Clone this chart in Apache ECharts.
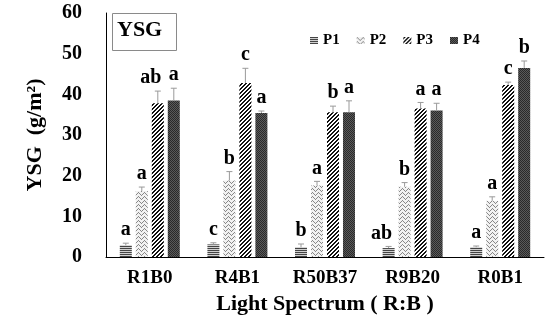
<!DOCTYPE html>
<html><head><meta charset="utf-8">
<script src="https://cdn.jsdelivr.net/npm/echarts@6/dist/echarts.min.js"></script>
<style>html,body{margin:0;padding:0;background:#fff}#c{width:550px;height:326px}</style>
</head><body><div id="c"></div>
<script>
var categories = ['R1B0', 'R4B1', 'R50B37', 'R9B20', 'R0B1'];
var seriesNames = ['P1', 'P2', 'P3', 'P4'];
var p1 = [2.9, 3.1, 2.4, 2.2, 2.4];
var p2 = [16.2, 18.8, 17.6, 17.3, 13.8];
var p3 = [37.8, 42.8, 35.6, 36.5, 42.3];
var p4 = [38.5, 35.4, 35.6, 36.0, 46.5];
var e1 = [0.5, 0.4, 0.8, 0.4, 0.3];
var e2 = [1.0, 2.2, 1.0, 1.0, 1.0];
var e3 = [3.0, 3.6, 1.5, 1.5, 0.7];
var e4 = [3.0, 0.5, 2.8, 1.8, 1.7];
var l1 = ['a', 'c', 'b', 'ab', 'a'];
var l2 = ['a', 'b', 'a', 'b', 'a'];
var l3 = ['ab', 'c', 'b', 'a', 'c'];
var l4 = ['a', 'a', 'a', 'a', 'b'];
var yTicks = [0, 10, 20, 30, 40, 50, 60];

var values = [p1, p2, p3, p4];
var errors = [e1, e2, e3, e4];
var letters = [l1, l2, l3, l4];

function makePattern(w, h, fn) {
  var c = document.createElement('canvas');
  c.width = w; c.height = h;
  var ctx = c.getContext('2d');
  for (var y = 0; y < h; y++) for (var x = 0; x < w; x++) {
    ctx.fillStyle = fn(x, y);
    ctx.fillRect(x, y, 1, 1);
  }
  return {image: c, repeat: 'repeat'};
}
var patterns = [
  makePattern(2, 2, function (x, y) { return y % 2 === 0 ? '#444' : '#cfcfcf'; }),
  makePattern(6, 4, function (x, y) {
    var zz = [0, 1, 2, 3, 2, 1];
    return (zz[x] === y) ? '#888' : '#f2f2f2';
  }),
  makePattern(4, 4, function (x, y) { return ((x + y) % 4 < 2) ? '#111' : '#fff'; }),
  makePattern(2, 2, function (x, y) { return ((x + y) % 2 === 0) ? '#2a2a2a' : '#5a5a5a'; })
];

var FONT = '"Liberation Serif", "Times New Roman", serif';
var series = [];
seriesNames.forEach(function (name, i) {
  series.push({
    name: name, type: 'bar', data: values[i], barWidth: 12, barGap: '33.3%',
    itemStyle: {color: patterns[i]}, z: 2
  });
});
seriesNames.forEach(function (name, i) {
  var off = (i - 1.5) * 16;
  series.push({
    name: name + '_err', type: 'custom', z: 5,
    data: values[i].map(function (v, k) { return [k, v, errors[i][k]]; }),
    renderItem: function (params, api) {
      var x = api.coord([api.value(0), 0])[0] + off;
      var yv = api.coord([api.value(0), api.value(1)])[1];
      var yt = api.coord([api.value(0), api.value(1) + api.value(2)])[1];
      var txt = letters[i][params.dataIndex];
      var tx = txt.length > 1 ? x - 7 : x;
      return {type: 'group', children: [
        {type: 'line', shape: {x1: x, y1: yv, x2: x, y2: yt}, style: {stroke: '#9a9a9a', lineWidth: 1}},
        {type: 'line', shape: {x1: x - 3, y1: yt, x2: x + 3, y2: yt}, style: {stroke: '#9a9a9a', lineWidth: 1}},
        {type: 'text', x: tx, y: yt - 3, style: {text: txt, textAlign: 'center', textVerticalAlign: 'bottom', font: 'bold 20px ' + FONT, fill: '#000'}}
      ]};
    }
  });
});

var chart = echarts.init(document.getElementById('c'), null, {renderer: 'canvas'});
chart.setOption({
  animation: false,
  backgroundColor: '#fff',
  grid: {left: 106, right: 6, top: 13, bottom: 69},
  legend: {
    data: seriesNames, left: 305, top: 28, itemWidth: 8, itemHeight: 7, itemGap: 17, icon: 'rect',
    textStyle: {fontFamily: FONT, fontWeight: 'bold', fontSize: 15, color: '#000'}
  },
  graphic: [
    {type: 'rect', left: 112, top: 13, shape: {width: 64, height: 37}, style: {fill: '#fff', stroke: '#8a8a8a', lineWidth: 1}, z: 10},
    {type: 'text', left: 117, top: 19, style: {text: 'YSG', font: 'bold 22px ' + FONT, fill: '#000'}, z: 11}
  ],
  xAxis: {
    type: 'category', data: categories,
    axisLine: {lineStyle: {color: '#000', width: 1}}, axisTick: {show: false},
    axisLabel: {fontFamily: FONT, fontWeight: 'bold', fontSize: 19, color: '#000', margin: 12},
    name: 'Light Spectrum ( R:B )', nameLocation: 'middle', nameGap: 34,
    nameTextStyle: {fontFamily: FONT, fontWeight: 'bold', fontSize: 22, color: '#000'}
  },
  yAxis: {
    type: 'value', min: yTicks[0], max: yTicks[yTicks.length - 1], interval: 10,
    splitLine: {show: false},
    axisLine: {show: true, lineStyle: {color: '#000', width: 1}}, axisTick: {show: false},
    axisLabel: {fontFamily: FONT, fontWeight: 'bold', fontSize: 20, color: '#000', margin: 24},
    name: 'YSG  (g/m²)', nameLocation: 'middle', nameGap: 60, nameRotate: 90,
    nameTextStyle: {fontFamily: FONT, fontWeight: 'bold', fontSize: 22, color: '#000'}
  },
  series: series
});
</script></body></html>
